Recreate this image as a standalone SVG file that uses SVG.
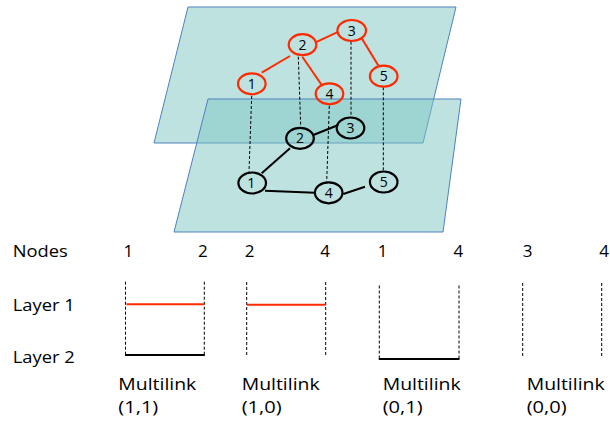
<svg xmlns="http://www.w3.org/2000/svg" width="610" height="421" viewBox="0 0 610 421">
<style>
.plane{fill:#7dc5c1;fill-opacity:0.5;stroke:#4f81bd;stroke-width:1}
.rn{fill:none;stroke:#ff2a00;stroke-width:2.2}
.bn{fill:none;stroke:#000;stroke-width:2.2}
.re{stroke:#ff2a00;stroke-width:2;fill:none}
.be{stroke:#000;stroke-width:2;fill:none}
.dash{stroke:#000;stroke-width:1;stroke-dasharray:3,2;fill:none}
.nl{font-family:"Open Sans","Liberation Sans",sans-serif;font-size:14px;fill:#000;text-anchor:middle}
.t{font-family:"Open Sans","Liberation Sans",sans-serif;font-size:17px;fill:#000}
.d{font-family:"Open Sans","Liberation Sans",sans-serif;font-size:17px;fill:#000;text-anchor:middle}
</style>
<g id="planes">
<polygon class="plane" points="188,7 456,7 423,143 154,143"/>
<polygon class="plane" points="208,99 461,99 443,232 174,232"/>
</g>
<g id="connectors">
<line class="re" x1="261.7" y1="72.7" x2="290" y2="56"/>
<line class="re" x1="315" y1="42.7" x2="337" y2="32.3"/>
<line class="re" x1="302.3" y1="56.7" x2="321.7" y2="85"/>
<line class="re" x1="361.7" y1="38.3" x2="378.3" y2="65.5"/>
<line class="be" x1="261.7" y1="173.3" x2="290" y2="148.3"/>
<line class="be" x1="313.3" y1="135" x2="338.3" y2="125"/>
<line class="be" x1="265" y1="190.7" x2="315" y2="192.7"/>
<line class="be" x1="343.3" y1="194" x2="365" y2="186.7"/>
<line class="dash" x1="251.7" y1="96" x2="249" y2="171.7"/>
<line class="dash" x1="298.3" y1="56.7" x2="300.7" y2="126"/>
<line class="dash" x1="351" y1="41.7" x2="351" y2="116"/>
<line class="dash" x1="329.3" y1="106" x2="326.7" y2="181.7"/>
<line class="dash" x1="383.3" y1="87.3" x2="383.3" y2="170.7"/>
</g>
<g id="n1-top"><ellipse class="rn" cx="251.8" cy="83.8" rx="13.8" ry="10.5"/><text class="nl" x="251.8" y="88.8">1</text></g>
<g id="n2-top"><ellipse class="rn" cx="302.5" cy="44.7" rx="13.8" ry="10.5"/><text class="nl" x="302.5" y="49.7">2</text></g>
<g id="n3-top"><ellipse class="rn" cx="351.7" cy="30.5" rx="14.3" ry="10.5"/><text class="nl" x="351.7" y="35.5">3</text></g>
<g id="n4-top"><ellipse class="rn" cx="329.5" cy="93.8" rx="13.8" ry="10.5"/><text class="nl" x="329.5" y="98.8">4</text></g>
<g id="n5-top"><ellipse class="rn" cx="383.7" cy="76.2" rx="13.8" ry="10.5"/><text class="nl" x="383.7" y="81.2">5</text></g>
<g id="n1-bottom"><ellipse class="bn" cx="252.2" cy="183" rx="13.8" ry="10.5"/><text class="nl" x="251.2" y="188">1</text></g>
<g id="n2-bottom"><ellipse class="bn" cx="300" cy="138.3" rx="13.8" ry="10.5"/><text class="nl" x="300" y="143.3">2</text></g>
<g id="n3-bottom"><ellipse class="bn" cx="350.5" cy="128" rx="13.8" ry="10.5"/><text class="nl" x="350.5" y="133">3</text></g>
<g id="n4-bottom"><ellipse class="bn" cx="328.7" cy="192.8" rx="13.8" ry="10.5"/><text class="nl" x="328.7" y="197.8">4</text></g>
<g id="n5-bottom"><ellipse class="bn" cx="383.7" cy="182" rx="13.8" ry="10.5"/><text class="nl" x="383.7" y="187">5</text></g>
<g id="legend-labels">
<text class="t" x="12.7" y="257" textLength="55" lengthAdjust="spacingAndGlyphs">Nodes</text>
<text class="t" x="12.7" y="311" textLength="62" lengthAdjust="spacingAndGlyphs">Layer 1</text>
<text class="t" x="12.7" y="362.7" textLength="62" lengthAdjust="spacingAndGlyphs">Layer 2</text>
</g>
<g id="multilink-11">
<text class="d" x="128.3" y="257">1</text><text class="d" x="202.8" y="257">2</text>
<line class="dash" x1="125.5" y1="281.7" x2="125.5" y2="355"/>
<line class="dash" x1="204.3" y1="281.7" x2="204.3" y2="355"/>
<line class="re" x1="126.5" y1="304.3" x2="204.3" y2="304.3"/>
<line class="be" x1="125" y1="355" x2="204.8" y2="355"/>
<text class="t" x="118.3" y="389.5" textLength="78" lengthAdjust="spacingAndGlyphs">Multilink</text>
<text class="t" x="118.3" y="412.7" textLength="40" lengthAdjust="spacingAndGlyphs">(1,1)</text>
</g>
<g id="multilink-10">
<text class="d" x="249.5" y="257">2</text><text class="d" x="325" y="257">4</text>
<line class="dash" x1="246.7" y1="282" x2="246.7" y2="356"/>
<line class="dash" x1="325.7" y1="282" x2="325.7" y2="356"/>
<line class="re" x1="247" y1="304.7" x2="325.7" y2="304.7"/>
<text class="t" x="241.7" y="389.5" textLength="78" lengthAdjust="spacingAndGlyphs">Multilink</text>
<text class="t" x="241.7" y="412.7" textLength="40" lengthAdjust="spacingAndGlyphs">(1,0)</text>
</g>
<g id="multilink-01">
<text class="d" x="382.5" y="257">1</text><text class="d" x="458.3" y="257">4</text>
<line class="dash" x1="379.3" y1="285.5" x2="379.3" y2="359"/>
<line class="dash" x1="459" y1="285.5" x2="459" y2="359"/>
<line class="be" x1="378.8" y1="359" x2="459.5" y2="359"/>
<text class="t" x="382.7" y="389.5" textLength="78" lengthAdjust="spacingAndGlyphs">Multilink</text>
<text class="t" x="382.7" y="412.7" textLength="40" lengthAdjust="spacingAndGlyphs">(0,1)</text>
</g>
<g id="multilink-00">
<text class="d" x="527.7" y="257">3</text><text class="d" x="604" y="257">4</text>
<line class="dash" x1="522.7" y1="283" x2="522.7" y2="356.5"/>
<line class="dash" x1="601.7" y1="283" x2="601.7" y2="356.5"/>
<text class="t" x="526.7" y="389.5" textLength="78" lengthAdjust="spacingAndGlyphs">Multilink</text>
<text class="t" x="526.7" y="412.7" textLength="40" lengthAdjust="spacingAndGlyphs">(0,0)</text>
</g>
</svg>
